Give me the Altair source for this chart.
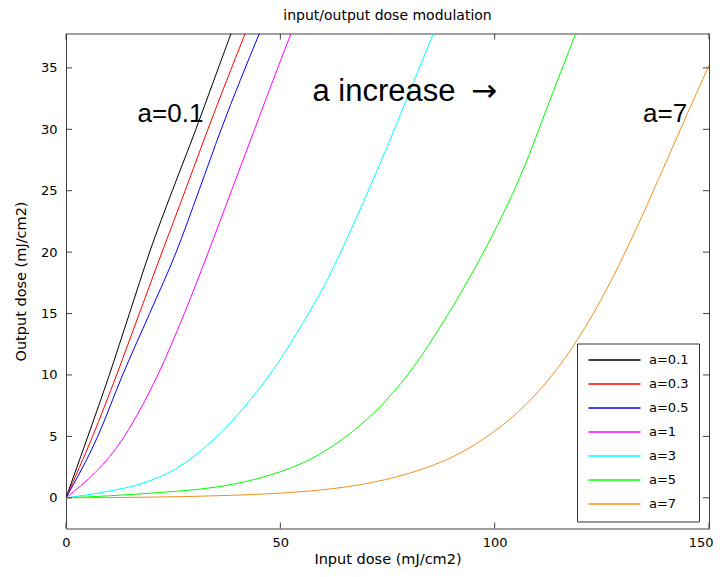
import altair as alt
import pandas as pd

# ---------------- data ----------------
x_ticks = [0, 50, 100, 150]
y_ticks = [0, 5, 10, 15, 20, 25, 30, 35]

series_names = ["a=0.1", "a=0.3", "a=0.5", "a=1", "a=3", "a=5", "a=7"]
series_colors = ["#000000", "#ff0000", "#0000ff", "#ff00ff", "#00ffff", "#00ff00", "#f0901e"]

a01_x = [0, 5.1, 10.1, 14.8, 19.5, 24.8, 30.3, 34.5, 38.5]
a01_y = [0, 5, 10, 15, 20, 25, 30, 34, 37.8]

a03_x = [0, 6.2, 11.8, 17.1, 22.4, 27.8, 33.1, 41.8]
a03_y = [0, 5, 10, 15, 20, 25, 30, 37.8]

a05_x = [0, 7.4, 13.2, 19.5, 25.7, 31.0, 36.2, 45.1]
a05_y = [0, 5, 10, 15, 20, 25, 30, 37.8]

a1_x = [0, 13.6, 21.4, 27.6, 33.2, 38.6, 44.0, 49.4, 52.5]
a1_y = [0, 5, 10, 15, 20, 25, 30, 35, 37.8]

a3_x = [0, 9.4, 18.0, 25.8, 32.7, 40.4, 45.1, 49.5, 55.2, 61.2, 66.2, 70.9, 75.2, 79.5, 85.7]
a3_y = [0, 0.5, 1.2, 2.4, 4.2, 6.9, 8.9, 11.0, 14.2, 17.9, 21.6, 25.3, 28.8, 32.5, 37.8]

a5_x = [0, 10.1, 21.8, 31.1, 38.9, 45.1, 49.8, 56.8, 66.1, 74.6, 81.6, 87.8, 94.1, 99.5, 106.5, 112.7, 118.9]
a5_y = [0, 0.16, 0.43, 0.7, 1.1, 1.6, 2.1, 3.1, 5.2, 7.9, 10.9, 14.2, 17.9, 21.4, 26.6, 32.2, 37.8]

a7_x = [0, 19, 38.5, 47.4, 56.8, 68.4, 80.1, 91.7, 99.5, 107.3, 115.0, 122.0, 127.5, 132.9, 138.3, 144.6, 150]
a7_y = [0, 0.05, 0.2, 0.33, 0.55, 1.06, 2.0, 3.6, 5.3, 7.6, 10.7, 14.4, 17.9, 21.8, 26.0, 31.0, 35.2]

series_x = [a01_x, a03_x, a05_x, a1_x, a3_x, a5_x, a7_x]
series_y = [a01_y, a03_y, a05_y, a1_y, a3_y, a5_y, a7_y]

big_labels = ["a=0.1", "a=7"]
big_labels_x = [16.7, 134.6]
big_labels_y = [30.6, 30.6]

increase_label = ["a increase"]
increase_x = [57.5]
increase_y = [32.3]

arrow_label = ["\u2192"]
arrow_x = [94.5]
arrow_y = [32.3]

# ---------------- tables ----------------
rows = []
for name, xs, ys in zip(series_names, series_x, series_y):
    for i, (xv, yv) in enumerate(zip(xs, ys)):
        rows.append({"series": name, "x": xv, "y": yv, "order": i})
lines_df = pd.DataFrame(rows)

W, H = 643, 495
AX = "#404040"
SMALL_FONT = "DejaVu Sans"
BIG_FONT = "Liberation Sans"

xs_scale = alt.Scale(domain=[0, 150], nice=False, zero=False)
ys_scale = alt.Scale(domain=[-2.5, 37.8], nice=False, zero=False)

x_axis = alt.Axis(values=x_ticks, ticks=False, grid=False, domain=False,
                  labelFont=SMALL_FONT, labelFontSize=13, labelColor="#000",
                  labelPadding=8,
                  labelAlign={"condition": {"test": "datum.value >= 150", "value": "right"}, "value": "center"},
                  labelOffset={"condition": {"test": "datum.value >= 150", "value": 4}, "value": 0},
                  title="Input dose (mJ/cm2)", titleFont=SMALL_FONT,
                  titleFontSize=14.5, titleFontWeight="normal", titleColor="#000",
                  titlePadding=3)
y_axis = alt.Axis(values=y_ticks, ticks=False, grid=False, domain=False,
                  labelFont=SMALL_FONT, labelFontSize=13, labelColor="#000",
                  labelPadding=9, title="Output dose (mJ/cm2)", titleFont=SMALL_FONT,
                  titleFontSize=14.5, titleFontWeight="normal", titleColor="#000",
                  titlePadding=12)

X = lambda f: alt.X(f, type="quantitative", scale=xs_scale, axis=x_axis)
Y = lambda f: alt.Y(f, type="quantitative", scale=ys_scale, axis=y_axis)

lines = alt.Chart(lines_df).mark_line(clip=True, strokeWidth=1, interpolate="monotone").encode(
    x=X("x"), y=Y("y"),
    order="order:Q",
    color=alt.Color("series:N",
                    scale=alt.Scale(domain=series_names, range=series_colors),
                    legend=alt.Legend(title=None, orient="none", legendX=511, legendY=310,
                                      symbolType="M-1,0H9.4", symbolSize=100, symbolStrokeWidth=1.5,
                                      labelFont=SMALL_FONT, labelFontSize=13, labelColor="#000",
                                      labelOffset=49, rowPadding=10, columnPadding=0, padding=10,
                                      strokeColor="#333333", fillColor="#ffffff"))
)

tick_len = 6
yt_df = pd.DataFrame({"t": y_ticks})
xt_df = pd.DataFrame({"t": x_ticks})
yt_left = alt.Chart(yt_df).mark_rule(color=AX).encode(y=Y("t"), x=alt.value(0), x2=alt.value(tick_len))
yt_right = alt.Chart(yt_df).mark_rule(color=AX).encode(y=Y("t"), x=alt.value(W - tick_len), x2=alt.value(W))
xt_bottom = alt.Chart(xt_df).mark_rule(color=AX).encode(x=X("t"), y=alt.value(H - tick_len), y2=alt.value(H))
xt_top = alt.Chart(xt_df).mark_rule(color=AX).encode(x=X("t"), y=alt.value(0), y2=alt.value(tick_len))

big_df = pd.DataFrame({"label": big_labels, "x": big_labels_x, "y": big_labels_y})
inc_df = pd.DataFrame({"label": increase_label, "x": increase_x, "y": increase_y})
arr_df = pd.DataFrame({"label": arrow_label, "x": arrow_x, "y": arrow_y})

big_text = alt.Chart(big_df).mark_text(font=BIG_FONT, fontSize=26, align="left",
                                       baseline="alphabetic", color="#000").encode(
    x=X("x"), y=Y("y"), text="label:N")
inc_text = alt.Chart(inc_df).mark_text(font=BIG_FONT, fontSize=31, align="left",
                                       baseline="alphabetic", color="#000").encode(
    x=X("x"), y=Y("y"), text="label:N")
arr_text = alt.Chart(arr_df).mark_text(font=SMALL_FONT, fontSize=31, align="left",
                                       baseline="alphabetic", color="#000").encode(
    x=X("x"), y=Y("y"), text="label:N")

chart = alt.layer(lines, yt_left, yt_right, xt_bottom, xt_top, big_text, inc_text, arr_text).properties(
    width=W, height=H,
    title=alt.TitleParams("input/output dose modulation", font=SMALL_FONT, fontSize=14,
                          fontWeight="normal", color="#000", offset=10, frame="group",
                          anchor="middle"),
    autosize=alt.AutoSizeParams(type="none"),
    padding={"left": 58, "top": 25.5, "right": 5, "bottom": 40.5},
    background="#ffffff",
).configure_view(stroke=AX, strokeWidth=1)

chart.save("out.html", embed_options={"renderer": "svg", "actions": False})
